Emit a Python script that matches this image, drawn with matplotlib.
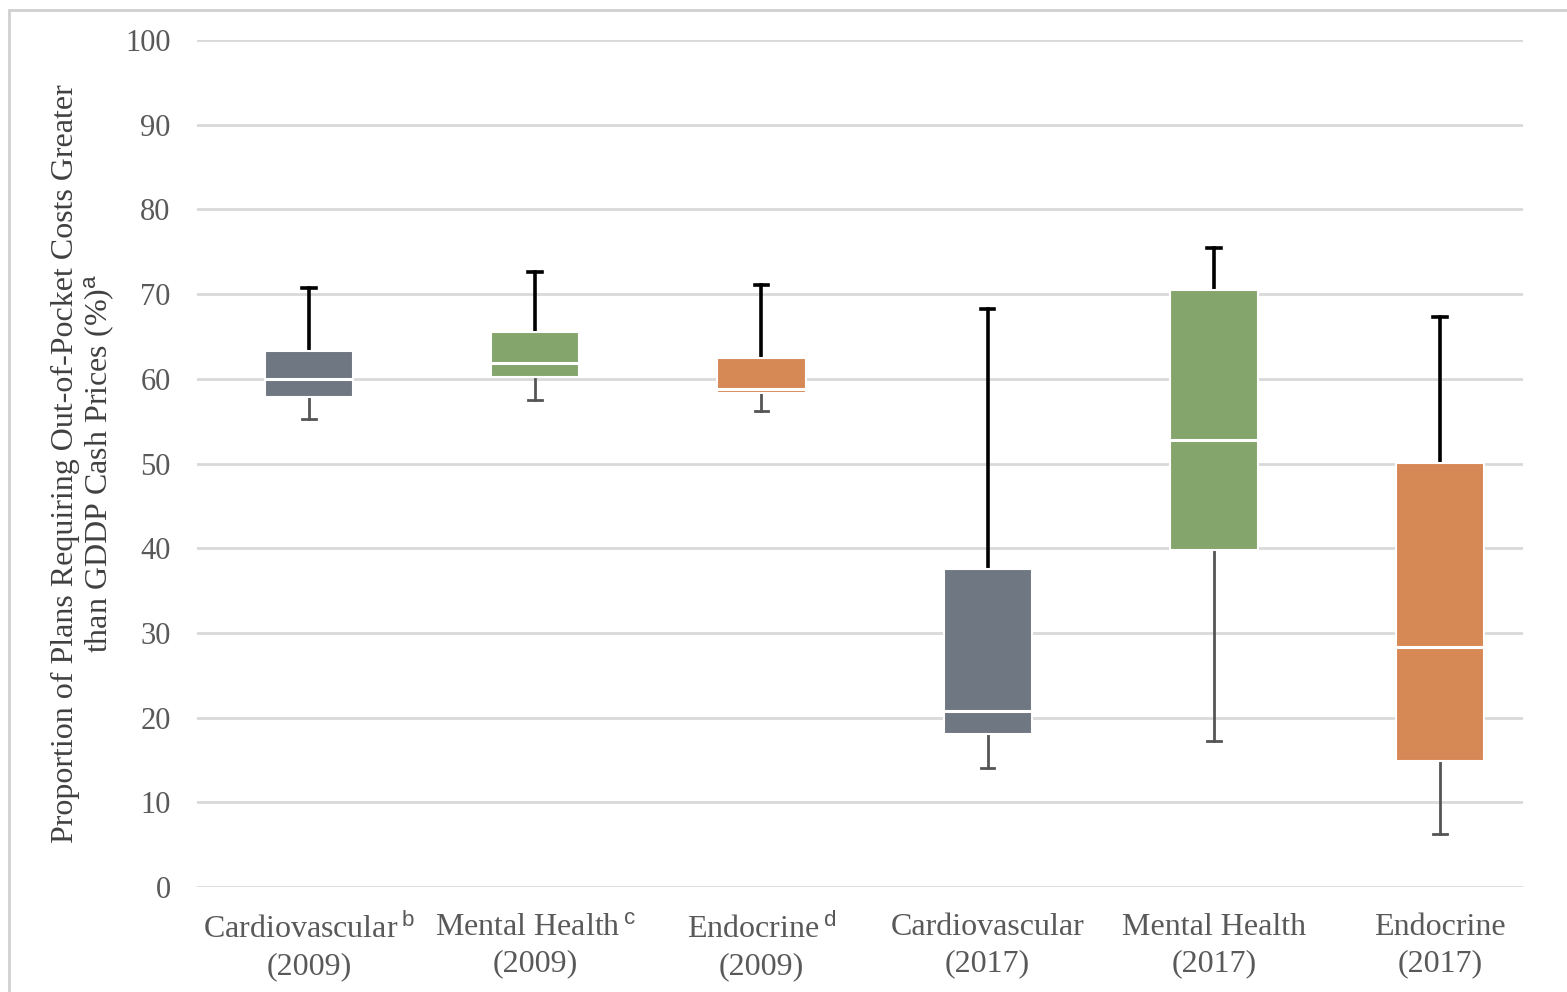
import matplotlib
matplotlib.use("Agg")
import matplotlib.pyplot as plt
from matplotlib.patches import Rectangle

categories = ["Cardiovascular", "Mental Health", "Endocrine",
              "Cardiovascular", "Mental Health", "Endocrine"]
years = ["2009", "2009", "2009", "2017", "2017", "2017"]
superscripts = ["b", "c", "d", "", "", ""]
whisker_low = [55.3, 57.5, 56.2, 14.1, 17.2, 6.3]
q1 = [57.8, 60.2, 58.3, 18.1, 39.8, 14.9]
median = [60.0, 61.9, 58.8, 20.8, 52.8, 28.3]
q3 = [63.3, 65.5, 62.4, 37.5, 70.5, 50.1]
whisker_high = [70.7, 72.6, 71.1, 68.2, 75.5, 67.3]
colors = ["#6f7782", "#84a56c", "#d68955", "#6f7782", "#84a56c", "#d68955"]
yticks = [0, 10, 20, 30, 40, 50, 60, 70, 80, 90, 100]

plt.rcParams['mathtext.fontset'] = 'custom'
plt.rcParams['mathtext.rm'] = 'Liberation Sans'
plt.rcParams['mathtext.it'] = 'Liberation Sans'

fig = plt.figure(figsize=(15.67, 9.92), dpi=100)
ax = fig.add_axes([0.1257, 0.1058, 0.972 - 0.1257, 0.9597 - 0.1058])

stats = []
for i in range(len(categories)):
    if superscripts[i]:
        lab = f"{categories[i]}$\\,^{{\\mathrm{{{superscripts[i]}}}}}$\n({years[i]})"
    else:
        lab = f"{categories[i]}\n({years[i]})"
    stats.append(dict(whislo=whisker_low[i], q1=q1[i], med=median[i],
                      q3=q3[i], whishi=whisker_high[i], fliers=[], label=lab))

bp = ax.bxp(stats, positions=range(len(stats)), widths=0.39, patch_artist=True,
            showfliers=False,
            boxprops=dict(edgecolor="white", linewidth=1.5),
            medianprops=dict(color="white", linewidth=2.2),
            capwidths=0.06)

for i, b in enumerate(bp["boxes"]):
    b.set_facecolor(colors[i])
    b.set_zorder(3)
for m in bp["medians"]:
    m.set_zorder(4)
for i in range(len(stats)):
    lo, hi = bp["whiskers"][2 * i], bp["whiskers"][2 * i + 1]
    clo, chi = bp["caps"][2 * i], bp["caps"][2 * i + 1]
    for ln in (lo, clo):
        ln.set_color("#555555"); ln.set_linewidth(2.0)
    for ln in (hi, chi):
        ln.set_color("black"); ln.set_linewidth(2.6)
    for ln in (lo, hi, clo, chi):
        ln.set_zorder(2.5)

ax.set_ylim(0, 100)
ax.set_xlim(-0.495, 5.367)
ax.set_yticks(yticks)
ax.yaxis.grid(True, color="#d9d9d9", linewidth=2)
ax.set_axisbelow(True)
for s in ax.spines.values():
    s.set_visible(False)
ax.tick_params(axis="x", length=0, labelsize=23, colors="#595959", pad=19)
ax.tick_params(axis="y", length=0, labelsize=22, colors="#595959", pad=19)
for t in ax.get_xticklabels():
    t.set_fontfamily("Liberation Serif")
    t.set_linespacing(1.3)
for t in ax.get_yticklabels():
    t.set_fontfamily("Liberation Serif")
ax.set_ylabel("Proportion of Plans Requiring Out-of-Pocket Costs Greater\n"
              "than GDDP Cash Prices (%)$^{\\mathrm{a}}$",
              fontsize=23, family="Liberation Serif", color="#404040",
              labelpad=6, linespacing=1.1)

fig.patches.append(Rectangle((0.006, -0.01), 1.0, 1.0, transform=fig.transFigure,
                             fill=False, edgecolor="#d0d0d0", linewidth=2))

fig.savefig("out.png", dpi=100)
